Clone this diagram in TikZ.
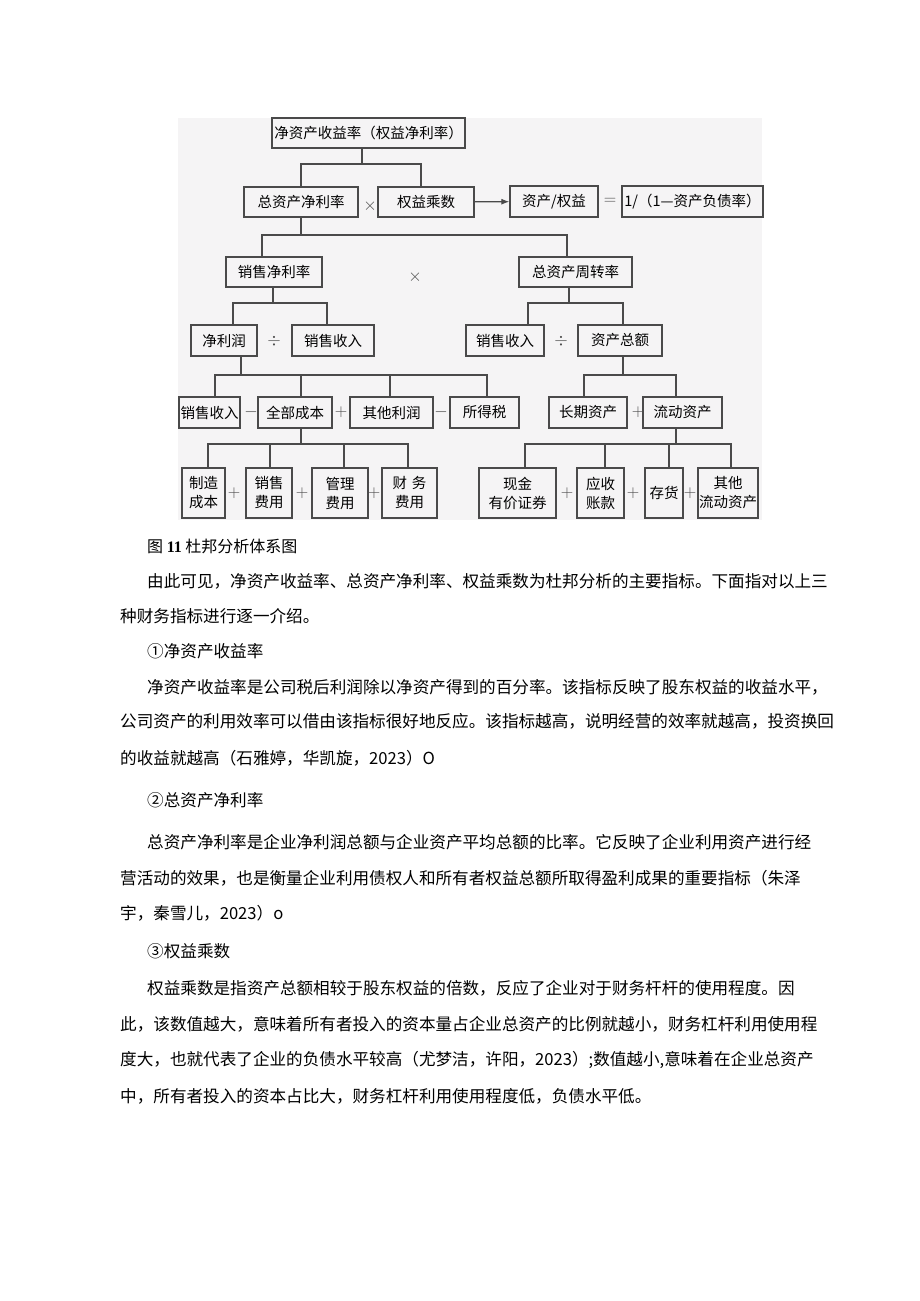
\documentclass[tikz,border=0pt]{standalone}
\usepackage{fontspec}
\setmainfont{Noto Sans CJK SC}
\newfontfamily\numfont{Liberation Serif}
\usetikzlibrary{arrows.meta,positioning}
\definecolor{panel}{HTML}{F5F4F5}
\definecolor{boxline}{HTML}{4A4A4A}

\begin{document}
\begin{tikzpicture}[x=1pt, y=-1pt,
  box/.style={draw=boxline, line width=1.3pt, inner sep=0pt, minimum height=30, align=center, font=\fontsize{14.5}{19}\selectfont},
  tallbox/.style={box, minimum height=50},
  link/.style={draw=boxline, line width=1.2pt},
  arrow/.style={link, -{Latex[length=8pt,width=6pt]}},
  sym/.style={inner sep=0pt, text=black!70, font=\fontsize{18}{18}\selectfont},
  para/.style={anchor=west, inner sep=0pt, font=\fontsize{16.6}{20}\selectfont}
]
\fill[white] (0,0) rectangle (920,1301);
\useasboundingbox (0,0) rectangle (920,1301);
\fill[panel] (178,118) rectangle (762,520);

% level 1 and 2
\node[box, minimum width=193] (roe) at (368.5,133) {净资产收益率（权益净利率）};
\node[box, minimum width=114] (roa) at (301,202) {总资产净利率};
\node[box, minimum width=96] (em) at (426,202) {权益乘数};
\node[box, minimum width=88, minimum height=31] (ae) at (554,201.5) {资产/权益};
\node[box, minimum width=141, minimum height=31] (dr) at (692.5,201.5) {1/（1—资产负债率）};

% level 3
\node[box, minimum width=96] (npm) at (274,272) {销售净利率};
\node[box, minimum width=113] (tat) at (575.5,272) {总资产周转率};

% level 4
\node[box, minimum width=66, minimum height=31] (np) at (224,340.5) {净利润};
\node[box, minimum width=82, minimum height=31] (sr1) at (333,340.5) {销售收入};
\node[box, minimum width=78, minimum height=31] (sr2) at (505,340.5) {销售收入};
\node[box, minimum width=84, minimum height=31] (tas) at (620,340.5) {资产总额};

% level 5
\node[box, minimum width=61, minimum height=31] (sr3) at (209.5,412.5) {销售收入};
\node[box, minimum width=74, minimum height=31] (tc) at (295,412.5) {全部成本};
\node[box, minimum width=83, minimum height=31] (op) at (391.5,412.5) {其他利润};
\node[box, minimum width=69, minimum height=31] (tax) at (484.5,412.5) {所得税};
\node[box, minimum width=78, minimum height=31] (lta) at (588,412.5) {长期资产};
\node[box, minimum width=79, minimum height=31] (ca) at (682.5,412.5) {流动资产};

% level 6
\node[tallbox, minimum width=43] (mc) at (203.5,493) {制造\\成本};
\node[tallbox, minimum width=46] (se) at (269,493) {销售\\费用};
\node[tallbox, minimum width=56] (mgmt) at (340,493) {管理\\费用};
\node[tallbox, minimum width=55] (fe) at (409.5,493) {财\,\,务\\费用};
\node[tallbox, minimum width=77] (cash) at (517.5,493) {现金\\有价证券};
\node[tallbox, minimum width=47] (ar) at (600.5,493) {应收\\账款};
\node[tallbox, minimum width=38] (inv) at (664,493) {存货};
\node[tallbox, minimum width=60] (oca) at (728,493) {其他\\流动资产};

% operators
\foreach \n/\x/\y/\s in {times1/370/206/$\times$, times2/415/277/$\times$,
    div1/274/341/$\div$, div2/561/341/$\div$, eq/610/201/$=$,
    minus1/251/412/$-$, plus1/341/412/$+$, minus2/441/412/$-$, plus2/638/412/$+$,
    plus3/234/493/$+$, plus4/302/493/$+$, plus5/374/493/$+$,
    plus6/567/493/$+$, plus7/633/493/$+$, plus8/690/493/$+$}
  \node[sym] (\n) at (\x,\y) {\s};

% tree connectors
\coordinate (j1) at (362,164);
\coordinate (j2) at (301,235);
\coordinate (j3) at (273,303);
\coordinate (j4) at (569,303);
\coordinate (j5) at (241,375);
\coordinate (j6) at (623,375);
\coordinate (j7) at (301,444);
\coordinate (j8) at (676,444);
\foreach \p/\j in {roe/j1, roa/j2, npm/j3, tat/j4, np/j5, tas/j6, tc/j7, ca/j8}
  \draw[link] (\p.south -| \j) -- (\j);
\foreach \c/\x/\j in {roa/301/j1, em/421/j1, npm/262/j2, tat/567/j2,
    np/233/j3, sr1/327/j3, sr2/528/j4, tas/623/j4,
    sr3/215/j5, tc/301/j5, op/390/j5, tax/487/j5, lta/584/j6, ca/676/j6,
    mc/208/j7, se/270/j7, mgmt/344/j7, fe/408/j7,
    cash/525/j8, ar/605/j8, inv/669/j8, oca/731/j8}
  \draw[link] (\c.north -| \x,0) |- (\j);
\draw[arrow] (em) -- (ae);

% caption and text
\node[para, font=\fontsize{16}{20}\selectfont] (cap) at (147,546) {图 {\numfont\bfseries 11} 杜邦分析体系图};
\node[para] (l1) at (147,581) {由此可见，净资产收益率、总资产净利率、权益乘数为杜邦分析的主要指标。下面指对以上三};
\node[para] (l2) at (120,616) {种财务指标进行逐一介绍。};
\node[para] (h1) at (147,651) {①净资产收益率};
\node[para] (l3) at (147,687) {净资产收益率是公司税后利润除以净资产得到的百分率。该指标反映了股东权益的收益水平，};
\node[para] (l4) at (120,721) {公司资产的利用效率可以借由该指标很好地反应。该指标越高，说明经营的效率就越高，投资换回};
\node[para] (l5) at (120,758) {的收益就越高（石雅婷，华凯旋，2023）O};
\node[para] (h2) at (147,800) {②总资产净利率};
\node[para] (l6) at (147,842) {总资产净利率是企业净利润总额与企业资产平均总额的比率。它反映了企业利用资产进行经};
\node[para] (l7) at (120,878) {营活动的效果，也是衡量企业利用债权人和所有者权益总额所取得盈利成果的重要指标（朱泽};
\node[para] (l8) at (120,913) {宇，秦雪儿，2023）o};
\node[para] (h3) at (147,951) {③权益乘数};
\node[para] (l9) at (147,988) {权益乘数是指资产总额相较于股东权益的倍数，反应了企业对于财务杆杆的使用程度。因};
\node[para] (l10) at (120,1024) {此，该数值越大，意味着所有者投入的资本量占企业总资产的比例就越小，财务杠杆利用使用程};
\node[para] (l11) at (120,1060) {度大，也就代表了企业的负债水平较高（尤梦洁，许阳，2023）;数值越小,意味着在企业总资产};
\node[para] (l12) at (120,1096) {中，所有者投入的资本占比大，财务杠杆利用使用程度低，负债水平低。};
\end{tikzpicture}
\end{document}
